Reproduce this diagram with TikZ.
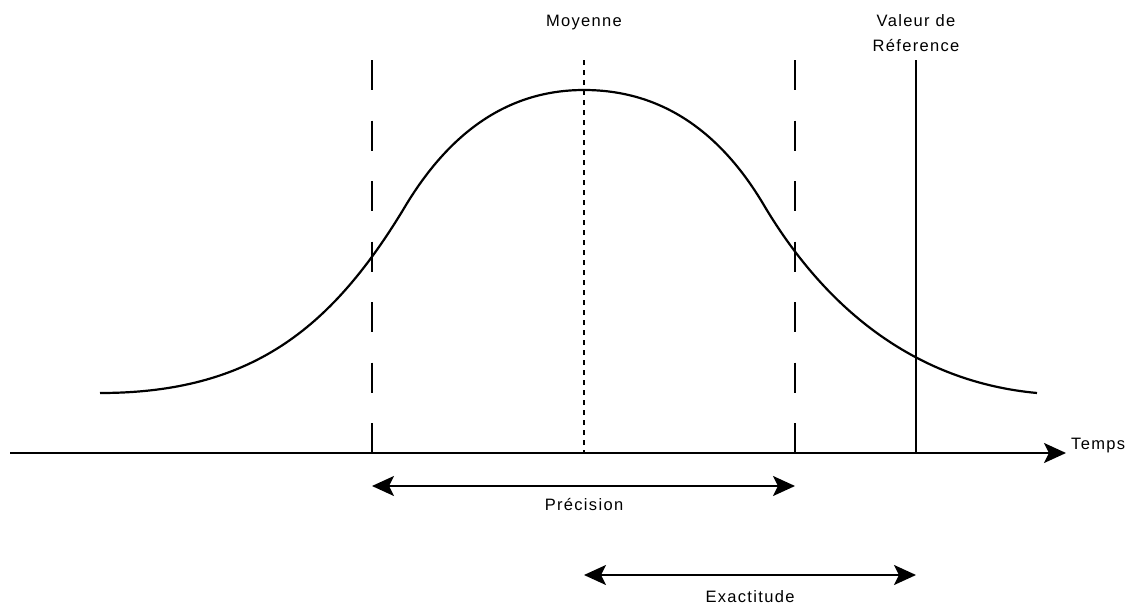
\documentclass[tikz,border=0pt]{standalone}
\usepackage{fontspec}
\setmainfont{Liberation Sans}[LetterSpace=8]
\usetikzlibrary{arrows.meta}
\tikzset{
  lbl/.style={inner sep=0pt, anchor=base, font=\fontsize{16.5}{19}\selectfont},
  ln/.style={line width=2.2pt, black},
  tip/.style={-{Stealth[length=22pt,width=20pt,inset=5pt]}},
  tips/.style={{Stealth[length=22pt,width=20pt,inset=5pt]}-{Stealth[length=22pt,width=20pt,inset=5pt]}},
  longdash/.style={ln, dash pattern=on 30pt off 30.5pt},
  shortdash/.style={ln, dash pattern=on 5pt off 5pt}
}
\begin{document}
\begin{tikzpicture}[x=1pt,y=-1pt]
\useasboundingbox (0,0) rectangle (1135,605);
% coordinates
\coordinate (axA) at (10,453);
\coordinate (axB) at (1066,453);
\coordinate (l1t) at (372,60);  \coordinate (l1b) at (372,453);
\coordinate (l2t) at (795,60);  \coordinate (l2b) at (795,453);
\coordinate (mt) at (584,60);   \coordinate (mb) at (584,453);
\coordinate (rt) at (916,60);   \coordinate (rb) at (916,453);
\coordinate (pA) at (372,486);  \coordinate (pB) at (795,486);
\coordinate (eA) at (584,575);  \coordinate (eB) at (916,575);
% curve
\coordinate (c0) at (100,393);
\coordinate (c1) at (403,210);
\coordinate (c2) at (584,90);
\coordinate (c3) at (765,207);
\coordinate (c4) at (1037,393);
\draw[ln] (c0) .. controls (250,393) and (330,330) .. (c1)
          .. controls (450,130) and (510,90) .. (c2)
          .. controls (660,90) and (720,130) .. (c3)
          .. controls (828,312) and (918,382) .. (c4);
% vertical lines
\draw[longdash] (l1t) -- (l1b);
\draw[longdash] (l2t) -- (l2b);
\draw[shortdash] (mt) -- (mb);
\draw[ln] (rt) -- (rb);
% axis
\draw[ln, tip] (axA) -- (axB);
% arrows
\draw[ln, tips] (pA) -- (pB);
\draw[ln, tips] (eA) -- (eB);
% labels
\node[lbl] (moy) at (584,27) {Moyenne};
\node[lbl] (val1) at (916,27) {Valeur de};
\node[lbl] (val2) at (916,51) {Réference};
\node[lbl, anchor=base west] (temps) at (1071,449) {Temps};
\node[lbl] (prec) at (584,510) {Précision};
\node[lbl] (exac) at (750,602) {Exactitude};
\end{tikzpicture}
\end{document}
